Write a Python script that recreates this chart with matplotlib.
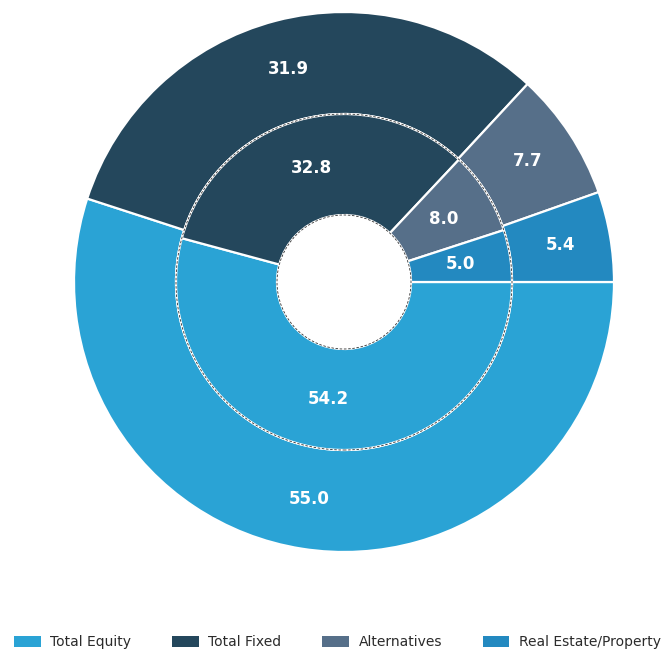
import matplotlib
matplotlib.use("Agg")
import matplotlib.pyplot as plt
from matplotlib.patches import Circle, Patch
import numpy as np

categories = ["Total Equity", "Total Fixed", "Alternatives", "Real Estate/Property"]
outer_values = [55.0, 31.9, 7.7, 5.4]
inner_values = [54.2, 32.8, 8.0, 5.0]
colors = ["#2aa3d5", "#24475c", "#566f89", "#2389c0"]

W, H = 666, 654
fig = plt.figure(figsize=(W / 100, H / 100), dpi=100)
ax = fig.add_axes([0, 0, 1, 1])

cx, cy = 344, H - 282
R_out, R_in, R_hole = 270, 168, 67

wp = dict(edgecolor="white", linewidth=1.6)
tp = dict(color="white", fontsize=12, fontweight="bold")

ax.pie(outer_values, radius=R_out, center=(cx, cy), colors=colors,
       startangle=0, counterclock=False,
       wedgeprops=dict(width=R_out - R_in, **wp), frame=True)
ax.pie(inner_values, radius=R_in, center=(cx, cy), colors=colors,
       startangle=0, counterclock=False,
       wedgeprops=dict(width=R_in - R_hole, **wp), frame=True)


def put_labels(values, dist):
    total = sum(values)
    start = 0.0
    for v in values:
        ang = start - v / total * 360 / 2
        a = np.deg2rad(ang)
        ax.text(cx + dist * np.cos(a), cy + dist * np.sin(a), f"{v:.1f}",
                ha="center", va="center", **tp)
        start -= v / total * 360


put_labels(outer_values, 220)
put_labels(inner_values, 118)

for r in (R_in, R_hole):
    ax.add_patch(Circle((cx, cy), r, fill=False, edgecolor="#333333",
                        linewidth=0.6, linestyle=(0, (3, 2)), zorder=5))

ax.set_xlim(0, W)
ax.set_ylim(0, H)
ax.set_aspect("equal")
ax.axis("off")

handles = [Patch(facecolor=c, edgecolor="none") for c in colors]
fig.legend(handles, categories, loc="lower center", ncol=4, frameon=False,
           bbox_to_anchor=(0.507, -0.012), fontsize=10, handlelength=1.9,
           handleheight=0.8, columnspacing=2.95, handletextpad=0.7,
           labelcolor="#2b2b2b")

fig.savefig("out.png", dpi=100)
